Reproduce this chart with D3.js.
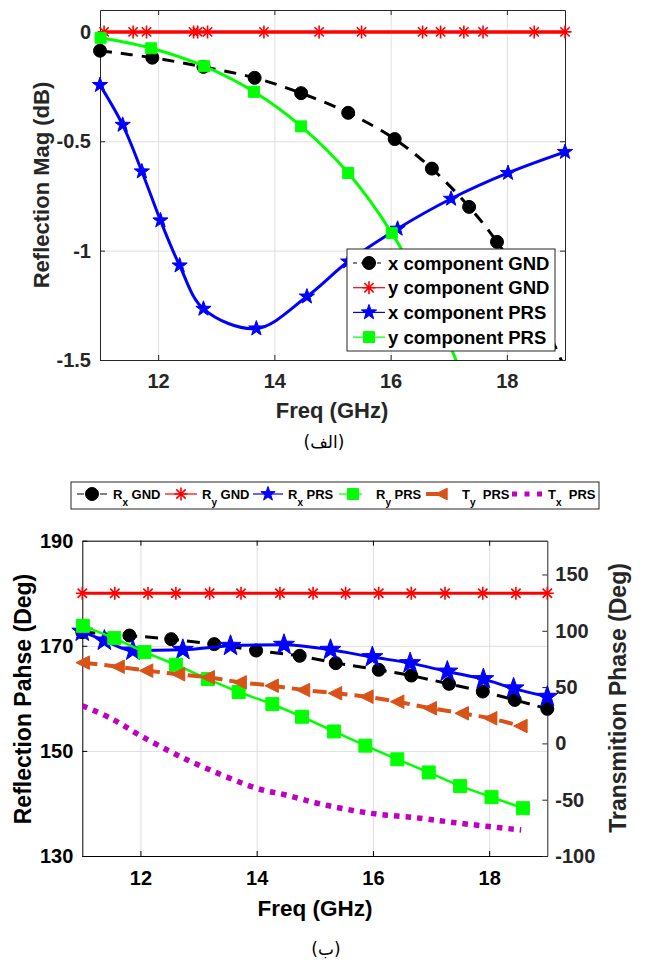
<!DOCTYPE html>
<meta charset="utf-8">
<script src="https://d3js.org/d3.v7.min.js"></script>
<style>
  body { margin: 0; background: #fff; }
  text { font-family: "Liberation Sans", Arial, sans-serif; font-weight: bold; }
</style>
<div id="my_dataviz"></div>
<script>

// ---- data : top chart (reflection magnitude) ----
var freqTicks = [12, 14, 16, 18];
var magTicks = [0, -0.5, -1, -1.5];

var magGndXFreq = [11.0, 11.9, 12.78, 13.66, 14.46, 15.27, 16.07, 16.71, 17.35, 17.83, 18.4, 19.1];
var magGndX     = [-0.086, -0.118, -0.16, -0.21, -0.28, -0.37, -0.49, -0.625, -0.80, -0.96, -1.2, -1.6];

var magGndYFreq = [11.07, 11.57, 11.8, 12.61, 12.68, 12.85, 13.82, 14.77, 15.5, 16.55, 16.86, 17.26, 17.59, 18.47, 19.0];
var magGndY     = [0, 0, 0, 0, 0, 0, 0, 0, 0, 0, 0, 0, 0, 0, 0];

var magPrsXFreq = [11.0, 11.39, 11.72, 12.04, 12.37, 12.78, 13.69, 14.56, 15.27, 16.12, 17.04, 18.02, 19.0];
var magPrsX     = [-0.243, -0.425, -0.638, -0.862, -1.068, -1.266, -1.356, -1.21, -1.05, -0.9, -0.763, -0.645, -0.549];

var magPrsYFreq = [11.01, 11.88, 12.79, 13.65, 14.46, 15.27, 16.02, 16.85, 17.7];
var magPrsY     = [-0.027, -0.075, -0.157, -0.274, -0.432, -0.645, -0.92, -1.33, -1.9];

var magLegend = ["x component GND", "y component GND", "x component PRS", "y component PRS"];

// ---- data : bottom chart (phase) ----
var phaseTicks = [130, 150, 170, 190];
var transTicks = [-100, -50, 0, 50, 100, 150];

var phGndXFreq = [11.0, 11.81, 12.53, 13.27, 13.99, 14.74, 15.36, 16.1, 16.66, 17.31, 17.89, 18.44, 19.0];
var phGndX     = [172.6, 171.96, 171.27, 170.32, 169.1, 168.1, 166.7, 165.43, 164.34, 162.76, 161.3, 159.7, 158.0];

var phGndYFreq = [11.0, 11.56, 12.13, 12.61, 13.19, 13.73, 14.4, 14.97, 15.53, 16.1, 16.66, 17.24, 17.89, 18.46, 19.0];
var phGndY     = [180, 180, 180, 180, 180, 180, 180, 180, 180, 180, 180, 180, 180, 180, 180];

var phPrsXFreq = [11.0, 11.38, 11.87, 12.73, 13.55, 14.47, 15.27, 15.99, 16.64, 17.28, 17.9, 18.42, 19.0];
var phPrsX     = [172.7, 171.0, 169.1, 169.24, 170.0, 170.2, 169.24, 167.85, 166.7, 165.1, 163.66, 161.9, 160.3];

var phPrsYFreq = [11.01, 11.55, 12.07, 12.61, 13.16, 13.69, 14.27, 14.78, 15.33, 15.87, 16.42, 16.96, 17.5, 18.04, 18.58];
var phPrsY     = [173.8, 171.46, 168.8, 166.4, 163.66, 161.2, 158.9, 156.5, 153.7, 151.0, 148.4, 145.9, 143.3, 141.2, 139.1];

var trPrsYFreq = [11.02, 11.62, 12.11, 12.66, 13.17, 13.72, 14.27, 14.81, 15.36, 15.9, 16.43, 16.99, 17.54, 18.03, 18.55];
var trPrsY     = [71.7, 68.1, 64.6, 61.4, 58.7, 54.2, 51.2, 47.4, 44.5, 41.5, 37.0, 31.2, 26.7, 22.3, 15.4];

var trPrsXFreq = [11.0, 11.5, 12.01, 12.63, 13.0, 14.0, 14.5, 15.1, 15.96, 16.82, 17.51, 18.55];
var trPrsX     = [33.5, 22, 6.6, -10.3, -19.2, -39.9, -45.8, -53.8, -62.1, -66.5, -71, -76.9];

// legend : [main letter, subscript, rest]
var phLegend = [["R", "x", " GND"], ["R", "y", " GND"], ["R", "x", " PRS"], ["R", "y", " PRS"], ["T", "y", "  PRS"], ["T", "x", "  PRS"]];

var svg = d3.select("#my_dataviz")
  .append("svg")
    .attr("width", 648)
    .attr("height", 962);

// marker shapes
function shape(type, r) {
  if (type == "circle") return d3.symbol(d3.symbolCircle, Math.PI * r * r)();
  if (type == "square") return "M" + (-r) + "," + (-r) + "h" + 2 * r + "v" + 2 * r + "h" + (-2 * r) + "Z";
  if (type == "star") {
    var p = [];
    for (var i = 0; i < 10; i++) {
      var a = -Math.PI / 2 + i * Math.PI / 5, rr = i % 2 ? r * 0.4 : r;
      p.push([rr * Math.cos(a), rr * Math.sin(a)]);
    }
    return "M" + p.join("L") + "Z";
  }
  if (type == "asterisk") {
    var k = r * 0.72;
    return "M0," + (-r) + "V" + r + "M" + (-r) + ",0H" + r +
      "M" + (-k) + "," + (-k) + "L" + k + "," + k + "M" + (-k) + "," + k + "L" + k + "," + (-k);
  }
  if (type == "triangle") return "M" + (-r) + ",0L" + (r * 0.8) + "," + (-r * 0.9) + "L" + (r * 0.8) + "," + (r * 0.9) + "Z";
  return "";
}

function drawMarker(g, type, r, color, cx, cy) {
  g.append("path")
    .attr("transform", "translate(" + cx + "," + cy + ")")
    .attr("d", shape(type, r))
    .attr("fill", type == "asterisk" ? "none" : color)
    .attr("stroke", color)
    .attr("stroke-width", type == "asterisk" ? 1.6 : 1);
}

// one series : line + markers
function drawSeries(g, x, y, freqs, vals, opt) {
  var pts = freqs.map(function(f, i) { return [f, vals[i]]; });
  g.append("path")
    .datum(pts)
    .attr("clip-path", "url(#" + opt.clip + ")")
    .attr("fill", "none")
    .attr("stroke", opt.color)
    .attr("stroke-width", opt.width)
    .attr("stroke-dasharray", opt.dash || null)
    .attr("d", d3.line()
      .curve(opt.curve || d3.curveLinear)
      .x(function(d) { return x(d[0]); })
      .y(function(d) { return y(d[1]); }));
  if (!opt.marker) return;
  var yd = d3.extent(y.domain()), xd = d3.extent(x.domain());
  pts.forEach(function(d) {
    if (d[1] < yd[0] || d[1] > yd[1] || d[0] < xd[0] || d[0] > xd[1] + 0.05) return;
    drawMarker(g, opt.marker, opt.size, opt.color, x(d[0]), y(d[1]));
  });
}

// box axes (ticks inward) + grid
function frame(g, x, y, w, h, color) {
  g.append("g").attr("class", "grid")
    .attr("transform", "translate(0," + h + ")")
    .call(d3.axisBottom(x).tickValues(freqTicks).tickSize(-h).tickFormat(""));
  g.append("g").attr("class", "grid")
    .call(d3.axisLeft(y).tickValues(y.ticksList).tickSize(-w).tickFormat(""));
  g.selectAll(".grid .domain").remove();
  g.selectAll(".grid line").attr("stroke", "#dfdfdf").attr("stroke-width", 1);

  g.append("g").attr("class", "axis")
    .attr("transform", "translate(0," + h + ")")
    .call(d3.axisBottom(x).tickValues(freqTicks).tickSize(-5).tickSizeOuter(0).tickPadding(x.pad));
  g.append("g").attr("class", "axis")
    .call(d3.axisTop(x).tickValues(freqTicks).tickSize(-5).tickSizeOuter(0).tickFormat(""));
}

// ================= top chart =================
var m1 = {left: 100, top: 10, width: 465, height: 350};
var x1 = d3.scaleLinear().domain([11, 19]).range([0, m1.width]);
var y1 = d3.scaleLinear().domain([-1.5, 0.1]).range([m1.height, 0]);
x1.pad = 14;
y1.ticksList = magTicks;

var g1 = svg.append("g").attr("transform", "translate(" + m1.left + "," + m1.top + ")");
g1.append("clipPath").attr("id", "clip1")
  .append("rect").attr("width", m1.width).attr("height", m1.height);

frame(g1, x1, y1, m1.width, m1.height);
g1.append("g").attr("class", "axis")
  .call(d3.axisLeft(y1).tickValues(magTicks).tickSize(-5).tickSizeOuter(0).tickPadding(9)
    .tickFormat(function(d) { return String(d); }));
g1.append("g").attr("class", "axis")
  .attr("transform", "translate(" + m1.width + ",0)")
  .call(d3.axisRight(y1).tickValues(magTicks).tickSize(-5).tickSizeOuter(0).tickFormat(""));
g1.selectAll(".axis path, .axis line").attr("stroke", "#262626");
g1.selectAll(".axis text").attr("fill", "#262626").style("font-size", "20px");

// series
drawSeries(g1, x1, y1, magGndXFreq, magGndX, {clip: "clip1", color: "#000", width: 3, dash: "12,9", curve: d3.curveCatmullRom, marker: "circle", size: 6.5});
drawSeries(g1, x1, y1, magGndYFreq, magGndY, {clip: "clip1", color: "#ff0000", width: 3.5, marker: "asterisk", size: 6.5});
drawSeries(g1, x1, y1, magPrsXFreq, magPrsX, {clip: "clip1", color: "#0000ff", width: 3, curve: d3.curveCatmullRom, marker: "star", size: 8});
drawSeries(g1, x1, y1, magPrsYFreq, magPrsY, {clip: "clip1", color: "#00ff00", width: 3, curve: d3.curveCatmullRom, marker: "square", size: 5.5});

// labels
svg.append("text")
  .attr("x", 332).attr("y", 418)
  .attr("text-anchor", "middle")
  .attr("fill", "#262626")
  .style("font-size", "22px")
  .text("Freq (GHz)");
svg.append("text")
  .attr("transform", "rotate(-90)")
  .attr("x", -185).attr("y", 49)
  .attr("text-anchor", "middle")
  .attr("fill", "#262626")
  .style("font-size", "22px")
  .text("Reflection Mag (dB)");
svg.append("text")
  .attr("x", 324).attr("y", 448)
  .attr("text-anchor", "middle")
  .style("font-family", "'DejaVu Sans', sans-serif")
  .style("font-weight", "normal")
  .style("font-size", "17px")
  .text("(الف)");

// legend
var lg1 = svg.append("g");
lg1.append("rect")
  .attr("x", 347).attr("y", 249).attr("width", 208).attr("height", 102)
  .attr("fill", "#fff").attr("stroke", "#262626").attr("stroke-width", 1);
var legStyles = [
  {color: "#000", marker: "circle", size: 6.5, dash: "4,4"},
  {color: "#ff0000", marker: "asterisk", size: 6.5},
  {color: "#0000ff", marker: "star", size: 8},
  {color: "#00ff00", marker: "square", size: 5.5}
];
magLegend.forEach(function(name, i) {
  var cy = 263 + i * 24.7, st = legStyles[i];
  lg1.append("line")
    .attr("x1", 353).attr("x2", 385).attr("y1", cy).attr("y2", cy)
    .attr("stroke", st.color).attr("stroke-width", 1.2)
    .attr("stroke-dasharray", st.dash || null);
  drawMarker(lg1, st.marker, st.size, st.color, 369, cy);
  lg1.append("text")
    .attr("x", 388).attr("y", cy + 6.5)
    .attr("fill", "#000")
    .style("font-size", "18.5px")
    .text(name);
});

// ================= bottom chart =================
var m2 = {left: 82.3, top: 540.7, width: 465, height: 315.3};
var x2 = d3.scaleLinear().domain([11, 19]).range([0, m2.width]);
var y2 = d3.scaleLinear().domain([130, 190]).range([m2.height, 0]);
var y2r = d3.scaleLinear().domain([-100, 180]).range([m2.height, 0]);
x2.pad = 15;
y2.ticksList = phaseTicks;

var g2 = svg.append("g").attr("transform", "translate(" + m2.left + "," + m2.top + ")");
g2.append("clipPath").attr("id", "clip2")
  .append("rect").attr("width", m2.width).attr("height", m2.height);

frame(g2, x2, y2, m2.width, m2.height);
g2.selectAll(".axis path, .axis line").attr("stroke", "#000");
g2.append("g").attr("class", "axis left")
  .call(d3.axisLeft(y2).tickValues(phaseTicks).tickSize(-5).tickSizeOuter(0).tickPadding(9));
g2.append("g").attr("class", "axis right")
  .attr("transform", "translate(" + m2.width + ",0)")
  .call(d3.axisRight(y2r).tickValues(transTicks).tickSize(-5).tickSizeOuter(0).tickPadding(8)
    .tickFormat(function(d) { return String(d); }));
g2.selectAll(".axis path, .axis line").attr("stroke", "#000");
g2.selectAll(".axis.right path, .axis.right line").attr("stroke", "#262626");
g2.selectAll(".axis text").attr("fill", "#000").style("font-size", "20px");
g2.selectAll(".axis.right text").attr("fill", "#262626");

// series
drawSeries(g2, x2, y2, phGndXFreq, phGndX, {clip: "clip2", color: "#000", width: 3, dash: "13,8", marker: "circle", size: 6.5});
drawSeries(g2, x2, y2, phGndYFreq, phGndY, {clip: "clip2", color: "#ff0000", width: 3, marker: "asterisk", size: 6.5});
drawSeries(g2, x2, y2, phPrsXFreq, phPrsX, {clip: "clip2", color: "#0000ff", width: 3, curve: d3.curveMonotoneX, marker: "star", size: 11});
drawSeries(g2, x2, y2, phPrsYFreq, phPrsY, {clip: "clip2", color: "#00ff00", width: 2.5, marker: "square", size: 6.5});
drawSeries(g2, x2, y2r, trPrsYFreq, trPrsY, {clip: "clip2", color: "#d95319", width: 4, dash: "14,7", marker: "triangle", size: 7.5});
drawSeries(g2, x2, y2r, trPrsXFreq, trPrsX, {clip: "clip2", color: "#c000c0", width: 5.5, dash: "5.5,6", curve: d3.curveCatmullRom});

// labels
svg.append("text")
  .attr("x", 315).attr("y", 916)
  .attr("text-anchor", "middle")
  .attr("fill", "#000")
  .style("font-size", "22.5px")
  .text("Freq (GHz)");
svg.append("text")
  .attr("transform", "rotate(-90)")
  .attr("x", -699).attr("y", 31)
  .attr("text-anchor", "middle")
  .attr("fill", "#000")
  .style("font-size", "23px")
  .text("Reflection Pahse (Deg)");
svg.append("text")
  .attr("transform", "rotate(-90)")
  .attr("x", -698).attr("y", 626)
  .attr("text-anchor", "middle")
  .attr("fill", "#262626")
  .style("font-size", "23px")
  .text("Transmition Phase (Deg)");
svg.append("text")
  .attr("x", 326).attr("y", 955)
  .attr("text-anchor", "middle")
  .style("font-family", "'DejaVu Sans', sans-serif")
  .style("font-weight", "normal")
  .style("font-size", "17px")
  .text("(ب)");

// legend
var lg2 = svg.append("g");
lg2.append("rect")
  .attr("x", 71).attr("y", 482).attr("width", 528).attr("height", 27)
  .attr("fill", "#fff").attr("stroke", "#262626").attr("stroke-width", 1);
var phLegStyles = [
  {x1: 77, x2: 107, mx: 92, tx: 113, color: "#000", marker: "circle", size: 6.5, dash: "7,16"},
  {x1: 165, x2: 197, mx: 181, tx: 202, color: "#ff0000", marker: "asterisk", size: 6.5},
  {x1: 253, x2: 283, mx: 268, tx: 288, color: "#0000ff", marker: "star", size: 7.5},
  {x1: 339, x2: 362, mx: 353, tx: 376, color: "#00ff00", marker: "square", size: 5.5},
  {x1: 426, x2: 447, mx: 442, tx: 462, color: "#d95319", marker: "triangle", size: 6.5, width: 4},
  {x1: 512, x2: 547, tx: 548, color: "#c000c0", dash: "5,7.5", width: 5}
];
phLegend.forEach(function(parts, i) {
  var st = phLegStyles[i], cy = 494;
  lg2.append("line")
    .attr("x1", st.x1).attr("x2", st.x2).attr("y1", cy).attr("y2", cy)
    .attr("stroke", st.color).attr("stroke-width", st.width || 1.2)
    .attr("stroke-dasharray", st.dash || null);
  if (st.marker) drawMarker(lg2, st.marker, st.size, st.color, st.mx, cy);
  var t = lg2.append("text")
    .attr("x", st.tx).attr("y", 498.5)
    .attr("fill", "#000")
    .attr("xml:space", "preserve")
    .style("white-space", "pre")
    .style("font-size", "13px");
  t.append("tspan").text(parts[0]);
  t.append("tspan").attr("dy", 7).style("font-size", "10px").text(parts[1]);
  t.append("tspan").attr("dy", -7).text(parts[2]);
});

</script>
